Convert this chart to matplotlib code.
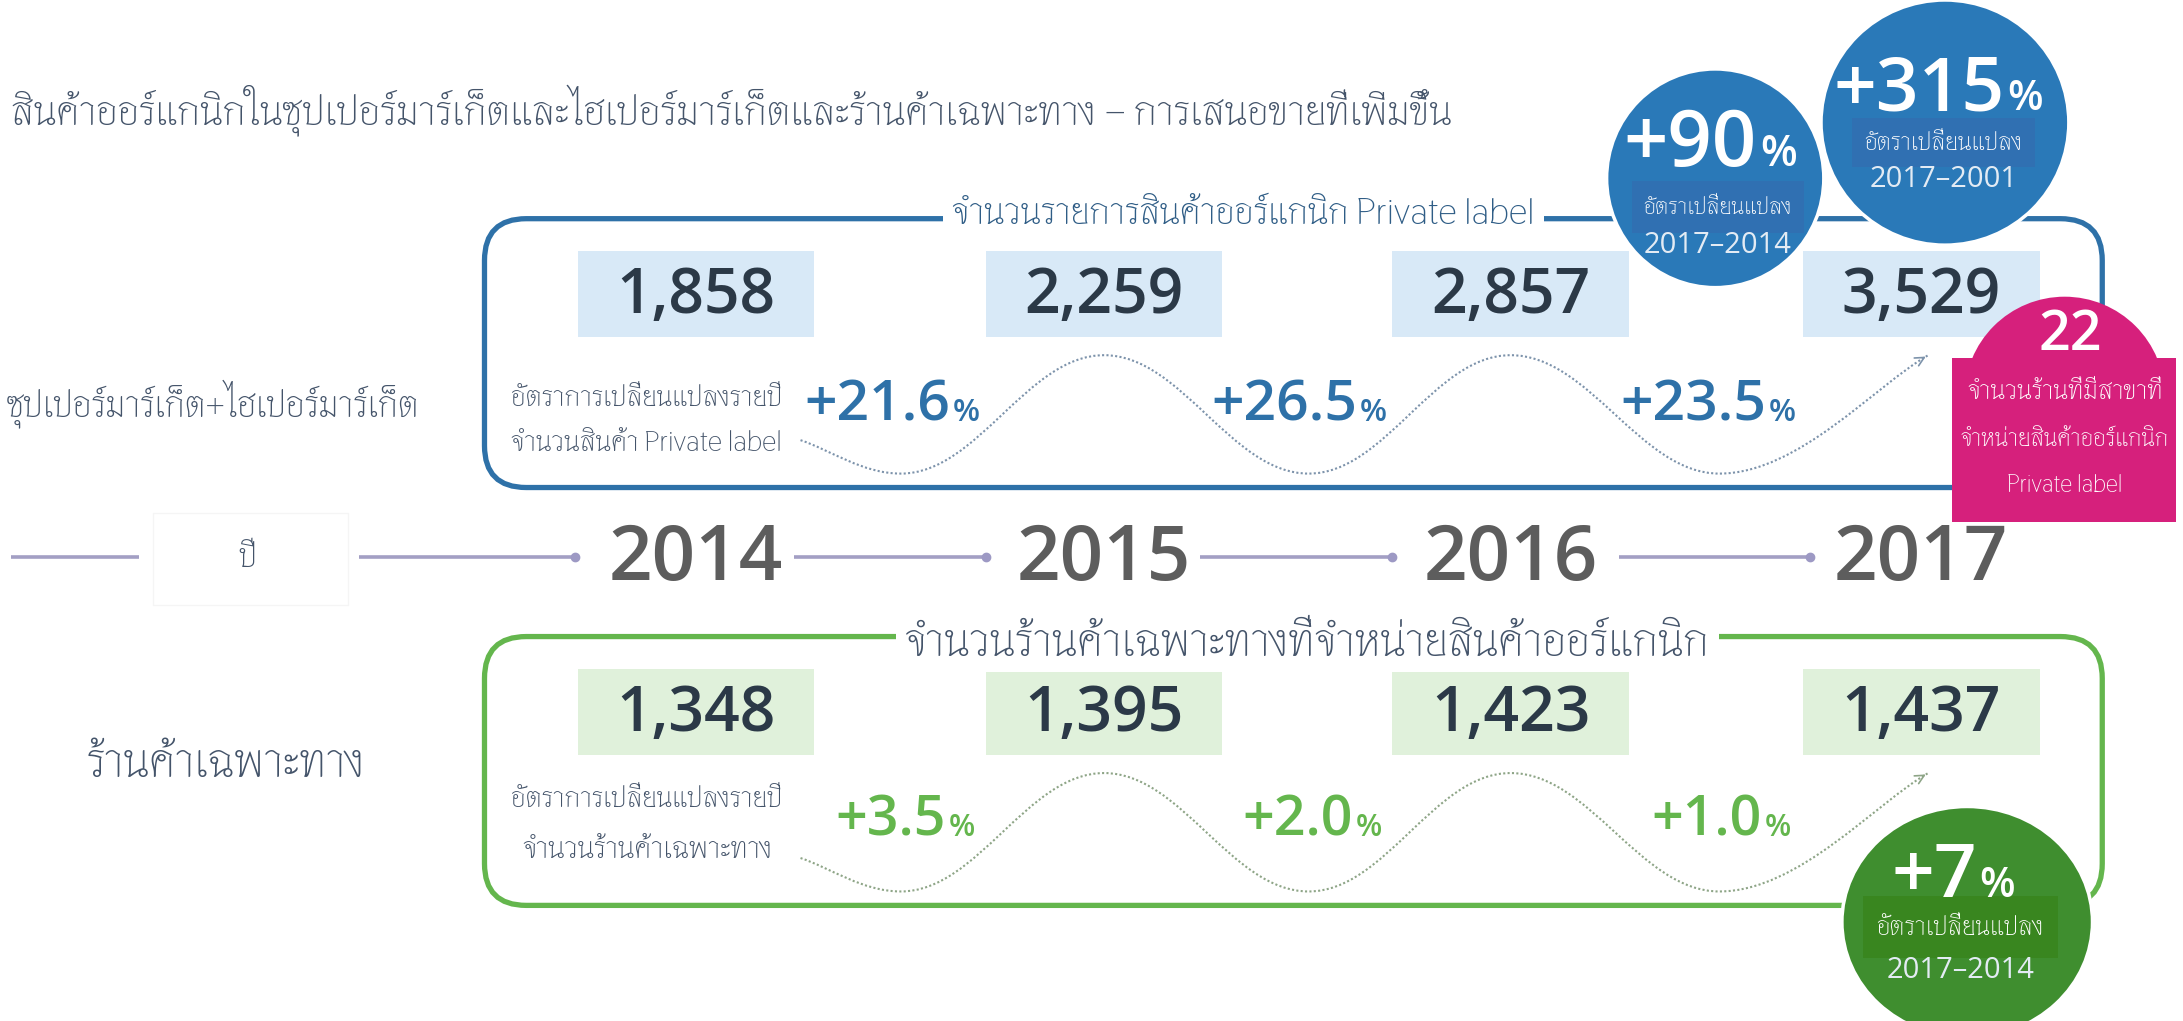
import numpy as np
import matplotlib
matplotlib.use("Agg")
import matplotlib.pyplot as plt
from matplotlib.patches import FancyBboxPatch, Rectangle, Ellipse, PathPatch
from matplotlib.path import Path

years = [2014, 2015, 2016, 2017]
private_label_items = [1858, 2259, 2857, 3529]
private_label_growth = [21.6, 26.5, 23.5]
specialty_stores = [1348, 1395, 1423, 1437]
specialty_growth = [3.5, 2.0, 1.0]
pl_change_2014 = 90
pl_change_2001 = 315
stores_change_2014 = 7
stores_with_pl = 22

title = "สินค้าออร์แกนิกในซุปเปอร์มาร์เก็ตและไฮเปอร์มาร์เก็ตและร้านค้าเฉพาะทาง – การเสนอขายที่เพิ่มขึ้น"
row_top = "ซุปเปอร์มาร์เก็ต+ไฮเปอร์มาร์เก็ต"
row_bottom = "ร้านค้าเฉพาะทาง"
box_top_title = "จำนวนรายการสินค้าออร์แกนิก Private label"
box_bottom_title = "จำนวนร้านค้าเฉพาะทางที่จำหน่ายสินค้าออร์แกนิก"
rate_label = "อัตราการเปลี่ยนแปลงรายปี"
top_sub = "จำนวนสินค้า Private label"
bottom_sub = "จำนวนร้านค้าเฉพาะทาง"
change_label = "อัตราเปลี่ยนแปลง"
year_word = "ปี"
pink_lines = ["จำนวนร้านที่มีสาขาที่", "จำหน่ายสินค้าออร์แกนิก", "Private label"]

THAI = ["Thasadith", "DejaVu Sans"]
NUM = ["Open Sans", "DejaVu Sans"]
SLATE = "#44546a"
BLUE = "#2e71a8"
GREEN = "#64b64d"

W, H = 1568, 733
fig = plt.figure(figsize=(21.83, 10.21), dpi=100)
ax = fig.add_axes([0, 0, 1, 1])
ax.set_xlim(0, W)
ax.set_ylim(H, 0)
ax.axis("off")
renderer = fig.canvas.get_renderer()
px = 2183 / W


def txt(x, y, s, size, width=None, **kw):
    kw.setdefault("family", THAI)
    kw.setdefault("va", "center")
    t = ax.text(x, y, s, fontsize=size, **kw)
    if width:
        bb = t.get_window_extent(renderer)
        t.set_fontsize(size * width * px / bb.width)
    return t


def pct(x, y, val, color, size, psize):
    ax.text(x, y, "+%s" % val, ha="right", va="baseline", fontsize=size,
            color=color, family=NUM, weight="semibold", zorder=6)
    ax.text(x + 2, y, "%", ha="left", va="baseline", fontsize=psize,
            color=color, family=NUM, weight="semibold", zorder=6)


def wave(pts, color):
    verts = [pts[0]]
    codes = [Path.MOVETO]
    n = len(pts) - 1
    for i in range(n):
        (x0, y0), (x1, y1) = pts[i], pts[i + 1]
        dx = x1 - x0
        c1 = (x0 + 0.38 * dx, y0)
        c2 = (x1 - 0.38 * dx, y1)
        if i == 0:
            c1 = (x0 + 0.3 * dx, y0 + 0.3 * (y1 - y0))
        if i == n - 1:
            c2 = (x1 - 0.25 * dx, y1 + 0.25 * (y0 - y1))
        verts += [c1, c2, (x1, y1)]
        codes += [Path.CURVE4] * 3
    ax.add_patch(PathPatch(Path(verts, codes), fill=False, ec=color, lw=1.5,
                           ls=(0, (1, 1.1)), zorder=3))
    (xa, ya), (xb, yb) = verts[-2], verts[-1]
    ax.annotate("", xy=(xb, yb), xytext=(xb - 0.15 * (xb - xa), yb - 0.15 * (yb - ya)),
                arrowprops=dict(arrowstyle="->", color=color, lw=1.2, mutation_scale=16),
                zorder=3)


cols = [500, 793, 1085, 1380]

# title and row labels
txt(8, 80, title, 27, width=1032, color=SLATE)
txt(5, 290, row_top, 22, width=298, color=SLATE)
txt(62, 548, row_bottom, 26, width=200, color=SLATE)

# timeline
tl_y = 400
segs = [(8, 100), (258, 413), (570, 708), (862, 1000), (1163, 1300)]
for i, (a, b) in enumerate(segs):
    ax.plot([a, b], [tl_y, tl_y], color="#a39fc4", lw=2.6, solid_capstyle="butt", zorder=2)
    if i > 0:
        ax.plot(b, tl_y, "o", color="#9d99c4", ms=6, zorder=2)
ax.add_patch(Rectangle((110, 368), 140, 66, fill=False, ec="#f5f5f5", lw=1))
txt(178, 400, year_word, 24, ha="center", color=SLATE)
for x, yr in zip(cols, years):
    ax.text(x, 402, str(yr), ha="center", va="center", fontsize=55, color="#5d5d5d",
            family=NUM, weight="semibold")

# frames
for (y0, y1, color, bg, vals, growth, split_off, base, gsize, curve_color) in [
        (157, 350, BLUE, "#d8e9f7", private_label_items, private_label_growth, 36, 302, 41, "#7d93ab"),
        (457, 650, GREEN, "#e0f1db", specialty_stores, specialty_growth, 33, 600, 40, "#8ea587")]:
    ax.add_patch(FancyBboxPatch((348, y0), 1162, y1 - y0, boxstyle="round,pad=0,rounding_size=30",
                                fill=False, ec=color, lw=3.8, zorder=1))
    for x, v in zip(cols, vals):
        ax.add_patch(Rectangle((x - 85, y0 + 23), 170, 62, fc=bg, ec="none", zorder=2))
        ax.text(x, y0 + 56, "{:,}".format(v), ha="center", va="center", fontsize=45,
                color="#2b3947", family=NUM, weight="semibold", zorder=3)
    for i, g in enumerate(growth):
        mid = (cols[i] + cols[i + 1]) / 2
        pct(mid + split_off, base, "%.1f" % g, color, gsize, gsize * 0.55)
    lo = y0 + 183
    hi = y0 + 98
    wave([(575, y0 + 159), (647, lo), (793, hi), (940, lo), (1085, hi), (1235, lo), (1385, hi)],
         curve_color)

txt(893, 153, box_top_title, 24, width=418, ha="center", color="#2f5d86",
    bbox=dict(fc="white", ec="none", pad=6), zorder=4)
txt(939, 461, box_bottom_title, 30, width=578, ha="center", color=SLATE,
    bbox=dict(fc="white", ec="none", pad=6), zorder=4)

txt(367, 285, rate_label, 19, width=195, color=SLATE)
txt(367, 318, top_sub, 19, width=195, color=SLATE)
txt(367, 573, rate_label, 19, width=195, color=SLATE)
txt(465, 610, bottom_sub, 19, width=180, ha="center", color=SLATE)

# pink store badge
PINK = "#d6207c"
ax.add_patch(Ellipse((1483, 285), 144, 144, fc=PINK, ec="none", zorder=4))
ax.add_patch(Rectangle((1402, 257), 161, 118, fc=PINK, ec="none", zorder=4))
ax.text(1487, 241, str(stores_with_pl), ha="center", va="center", fontsize=40, color="white",
        family=NUM, weight="semibold", zorder=6)
for y, s, w in zip([281, 315, 348], pink_lines, [141, 150, 83]):
    txt(1483, y, s, 15, width=w, ha="center", color="white", zorder=6)


# change bubbles
def bubble(cx, cy, w, h, fc, band, val, big, num_y, split, band_box, years_txt):
    ax.add_patch(Ellipse((cx, cy), w, h, fc=fc, ec="white", lw=2.5, zorder=5))
    bx0, by0, bx1, by1 = band_box
    ax.add_patch(Rectangle((bx0, by0), bx1 - bx0, by1 - by0, fc=band, ec="none", zorder=5))
    ax.text(split, num_y, "+%d" % val, ha="right", va="baseline", fontsize=big, color="white",
            family=NUM, weight="semibold", zorder=6)
    ax.text(split + 2, num_y, "%", ha="left", va="baseline", fontsize=big * 0.55, color="white",
            family=NUM, weight="semibold", zorder=6)
    txt((bx0 + bx1) / 2, (by0 + by1) / 2, change_label, 17, width=(bx1 - bx0) * 0.86,
        ha="center", color="white", zorder=6)
    ax.text((bx0 + bx1) / 2, by1 + 9, years_txt, ha="center", va="center", fontsize=21,
            color="#e3ebf4", family=NUM, zorder=6)


bubble(1232, 128, 156, 157, "#2a79b8", "#3070b2", pl_change_2014, 56, 119, 1262,
       (1172, 130, 1296, 167), "2017–2014")
bubble(1397, 88, 178, 176, "#2a79b8", "#3070b2", pl_change_2001, 54, 79, 1440,
       (1330, 85, 1462, 120), "2017–2001")
bubble(1413, 662, 180, 166, "#3f8e2f", "#39861f", stores_change_2014, 54, 644, 1420,
       (1338, 643, 1478, 688), "2017–2014")

fig.savefig("out.png", dpi=100)
